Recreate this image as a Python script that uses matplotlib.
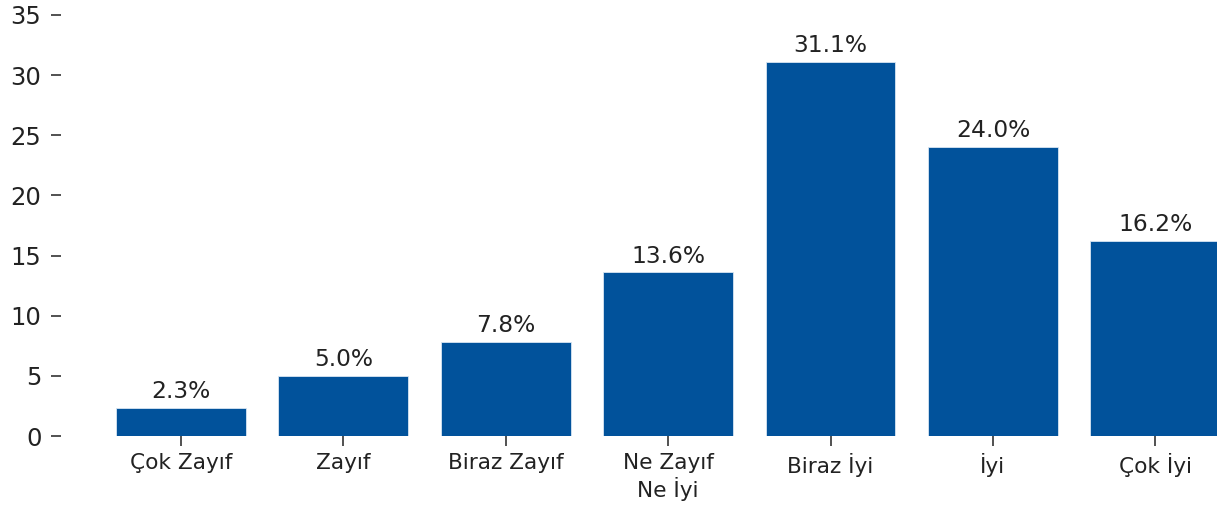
import matplotlib
matplotlib.use("Agg")
import matplotlib.pyplot as plt

categories = ["Çok Zayıf", "Zayıf", "Biraz Zayıf", "Ne Zayıf\nNe İyi", "Biraz İyi", "İyi", "Çok İyi"]
percentages = [2.3, 5.0, 7.8, 13.6, 31.1, 24.0, 16.2]
y_ticks = [0, 5, 10, 15, 20, 25, 30, 35]

fig = plt.figure(figsize=(12.17, 5.08), dpi=100)
ax = fig.add_axes([0.050, 0.1417, 0.998, 0.829])

x = list(range(len(categories)))
bars = ax.bar(x, percentages, width=0.8, color="#01529B", edgecolor="#d8e6f3", linewidth=0.6)

for b, v in zip(bars, percentages):
    ax.annotate(f"{v:.1f}%", (b.get_x() + b.get_width() / 2, v),
                xytext=(0, 3.5), textcoords="offset points",
                ha="center", va="bottom", fontsize=16.8, color="#222222")

ax.set_xlim(-0.74, 6.74)
ax.set_ylim(0, 35)
ax.set_yticks(y_ticks)
ax.set_xticks(x)
ax.set_xticklabels(categories, fontsize=15.6, color="#222222")
ax.tick_params(axis="y", labelsize=17.5, length=7, width=1.1, pad=7, colors="#222222")
ax.tick_params(axis="x", length=7, width=1.1, pad=5, colors="#222222")
for s in ax.spines.values():
    s.set_visible(False)

fig.savefig("out.png", dpi=100)
